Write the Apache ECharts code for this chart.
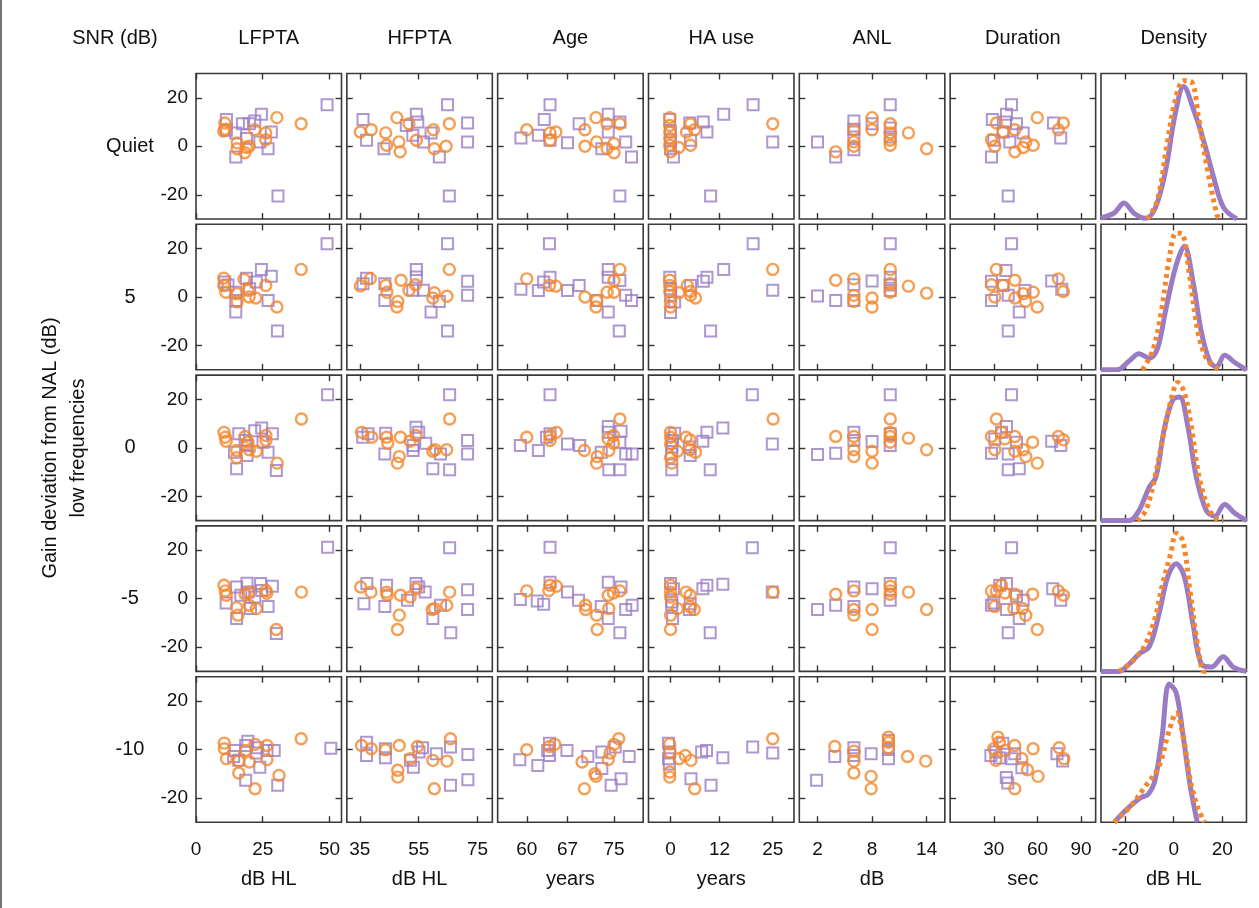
<!DOCTYPE html>
<html><head><meta charset="utf-8">
<script src="https://cdn.jsdelivr.net/npm/echarts@6/dist/echarts.min.js"></script>
<style>html,body{margin:0;padding:0;background:#fff}#c{width:1259px;height:908px}</style>
</head><body><div id="c"></div>
<script>
// ---------- DATA ----------
const rowNames = ['Quiet', '5', '0', '-5', '-10'];
const colNames = ['LFPTA', 'HFPTA', 'Age', 'HA use', 'ANL', 'Duration', 'Density'];
const colUnits = ['dB HL', 'dB HL', 'years', 'years', 'dB', 'sec', 'dB HL'];
const xTickValues = [[0,25,50],[35,55,75],[60,67,75],[0,12,25],[2,8,14],[30,60,90],[-20,0,20]];
const xMin = [0, 30.6, 55, -5.4, 0, 0, -30];
const xMax = [54.5, 80, 80, 30.2, 16, 100, 30];
const yTickValues = [-20, 0, 20];

// Each row array: [LFPTA, HFPTA, Age, HA use, ANL, Duration] lists of [x, gain deviation]
const purpleQuiet = [
 [[11.4,11],[11.4,6.6],[14.9,5.5],[14.9,-4.4],[17.4,9.3],[20,9.3],[22,10.4],[24.5,13.2],[28.2,5.9],[27,-1],[23.9,1.8],[18.9,3.2],[30.7,-20.5],[49.1,17.1]],
 [[36.1,11],[37.3,2.5],[43.2,-1],[54.2,13.2],[54.7,10],[53,4.5],[56.6,1.8],[59.2,5.5],[62,-4.4],[64.8,17.1],[71.6,9.6],[71.6,1.8],[65.4,-20.5],[50.8,8.6]],
 [[59,3.4],[62,4.5],[63,11],[64,17.1],[64,2.5],[67,1.4],[69,9.3],[74,13.2],[74,5.9],[76,10],[72.9,-1],[77,1.8],[78,-4.4],[76,-20.5]],
 [[-0.2,11],[0,5.9],[0,2.5],[0.7,-4.4],[4.7,9.6],[8,10],[8.9,5.9],[13,13.2],[20.2,17.1],[25,1.8],[9.8,-20.5],[4.9,2.5],[0,-1]],
 [[2,1.8],[4,-4.4],[6,10.4],[6,3.8],[6,-1.4],[8,9.3],[10,17.1],[10,3.8],[10,7.5],[6,7]],
 [[29,11],[38.7,13.2],[42.2,17.1],[28.4,-4.4],[30,2.5],[36.4,5.9],[45.6,9.3],[50.2,5.5],[41,1.8],[71,9.6],[76,3.4],[39.9,-20.5],[38,10]]
];
const orangeQuiet = [
 [[10.8,9.6],[10.4,6.3],[11,7],[15.4,1.4],[15.4,-1],[18.3,-2.7],[19.9,0],[18.9,-0.5],[22,6.8],[26.1,5.5],[26.1,2.7],[30.3,11.8],[39.4,9.3]],
 [[35.2,5.9],[38.9,6.8],[43.8,5.5],[44.1,0.4],[47.6,11.8],[48.3,1.8],[48.7,-2.3],[51.7,9.3],[54.2,2.5],[60,6.8],[60.3,-1],[64.3,0],[65.4,9.3]],
 [[60,6.8],[64,5.5],[65,5.9],[64,2.5],[70,6.8],[70,0],[71.9,11.8],[72,1.8],[73.8,9.3],[73.8,-1],[75,1.1],[75,-2.7],[76,9.3]],
 [[-0.2,11.8],[-0.2,8.6],[-0.2,5.9],[-0.2,3.2],[-0.2,0.4],[0,-2.3],[2,-0.5],[3.9,5.9],[4.9,9.3],[5.9,6.8],[4.9,0.4],[25,9.3]],
 [[4,-2.3],[6,6.8],[6,1.8],[6,0],[8,11.8],[8,6.8],[10,9.3],[10,5.5],[10,2.5],[10,0.4],[12,5.5],[14,-1]],
 [[31.8,9.6],[28.4,2.7],[30.7,0],[36.4,5.9],[44.5,6.8],[44.5,-2.3],[50.2,-0.5],[52,1.8],[57.1,0.4],[59.9,11.8],[74.4,6.8],[77.8,9.6]]
];
const purpleSNR5 = [
 [[10.8,6.2],[14.9,2],[14.9,-6.2],[14.9,-1.4],[18.9,7.8],[22.6,6.2],[24.5,11.4],[28.2,8.6],[27,-1.4],[20.1,3.4],[30.5,-14],[49.1,22],[12,5]],
 [[36.1,5.5],[37.3,7.8],[43.5,5.5],[43.5,-1.4],[54.2,11.4],[54.2,8.3],[53,2.8],[56.6,2.8],[59.2,-6.2],[62,-1.8],[64.8,22],[71.6,6.5],[71.6,0.7],[64.8,-14]],
 [[59,3.2],[62,2.7],[62.9,6.2],[63.9,22],[64,8.2],[67,2.7],[69,4.8],[74,11.4],[74,8.2],[76,6.8],[74,-6.2],[77,0.7],[78,-1.4],[75.9,-14],[72,-1.4]],
 [[-0.2,8.2],[0,3.4],[0,0.7],[0,-6.4],[1,-2],[4.9,4.8],[8,6.5],[8.9,8.2],[13,11.4],[20.2,22],[25,2.8],[9.8,-14]],
 [[2,0.4],[4,-1.4],[6,5.1],[6,-1.4],[8,6.6],[10,22],[10,8.2],[10,2.7],[10,5]],
 [[28.4,6.5],[28.4,-1.4],[38.3,11],[42.2,22],[36.4,4.8],[39.9,0.7],[51.4,2.7],[47.5,-6.2],[39.9,-14],[69.8,6.6],[76.7,3.2]]
];
const orangeSNR5 = [
 [[10.4,7.8],[10.4,4.8],[11.2,2],[15.4,1.4],[15.4,-2],[18,7.3],[19.5,2.8],[19.9,0],[22.4,-0.4],[26.1,4.8],[30.3,-4.1],[39.4,11.4]],
 [[35.2,4.6],[38.6,7.6],[43.8,4.8],[44.2,2],[47.9,-1.8],[47.6,-4.1],[49,6.9],[51.7,2.8],[53.9,5.1],[60.3,1.8],[59.8,-0.4],[64.6,0.3],[65.4,11.4]],
 [[60,7.5],[63.9,4.8],[65,4.5],[70,0],[72,-1.4],[71.9,-4.1],[73.8,2],[75,2],[75,6.8],[76,11.4]],
 [[-0.2,6.9],[-0.2,4.8],[-0.2,2.3],[0,-2],[0,-4.1],[2,1.8],[4.1,4.8],[4.9,2.3],[4.9,0.7],[6.1,-0.4],[25,11.4]],
 [[4,6.9],[6,7.5],[6,0.7],[6,-1.8],[8,-0.4],[8,-4.1],[10,11.4],[10,5.5],[10,2],[12,4.5],[14,1.6]],
 [[31.8,11.4],[28.4,5.1],[30.7,0],[36.4,4.8],[44.5,6.9],[44.5,-0.4],[50.2,1.4],[51.8,-1.8],[57.1,2],[59.9,-4.1],[74.4,7.5],[77.8,2.3]]
];
const purpleSNR0 = [
 [[16,5.8],[15.2,-8.6],[19.1,-3.2],[18.4,3],[22,7.1],[24.6,8.2],[25.1,2.3],[27,-1.8],[30.1,-9.3],[28.6,5.8],[14.4,-1.8],[49.3,21.9],[19.1,1]],
 [[36,4.4],[37.8,5.8],[43.8,6],[43.5,-2.5],[53.1,1],[53.1,-1.1],[54.1,8.5],[55,6.4],[57.4,1.9],[62.4,-2.5],[59.8,-8.6],[65.5,21.9],[65.5,-9],[71.6,3],[71.6,-2.5]],
 [[58.9,1],[62,-1.1],[63.4,4.4],[64,21.9],[64,5.8],[67,1.6],[69.1,1],[72.8,-1.8],[74,8.8],[74,6.4],[74.1,-9],[76.2,6.8],[76,2.3],[76,-9],[77,-2.5],[78.1,-2.5]],
 [[1,6],[0.5,3],[0.3,0.3],[0.3,-2.5],[0.3,-9],[4.6,0.3],[4.8,-3.2],[7.9,2.7],[8.9,6.4],[12.8,8.2],[20,21.9],[9.7,-9],[24.9,1.6]],
 [[2,-2.7],[4,-2.2],[6,6.4],[6,3],[8,2.6],[10,21.9],[10,1],[10,5.8]],
 [[28.4,-2.2],[30.7,3.7],[38.7,8.8],[42.2,21.9],[35.3,6.4],[39.9,-2.5],[45.6,2.3],[39.9,-9],[47.5,-8.6],[69.8,2.7],[76,1]]
];
const orangeSNR0 = [
 [[10.5,6.4],[11,4.4],[11.3,2.7],[15.2,-1.1],[15.2,-4.1],[18.4,4.7],[19.5,2.3],[20,-0.8],[22.6,-1.4],[26.2,5.1],[26.2,3],[30.4,-6.3],[39.5,11.9]],
 [[35.6,6.4],[39.1,4.4],[44.1,4.4],[44.5,1.9],[48.4,-3.6],[47.8,-6.3],[48.8,4.4],[52.1,2.7],[54.1,5.1],[59.8,-1.4],[60.6,-0.8],[64.5,-0.8],[65.5,11.9]],
 [[60,4.4],[64,5.1],[64,3],[65.1,6.4],[69.9,-1.1],[72.1,-3.6],[72,-6.3],[74.1,-1.1],[74,3.7],[74.9,5.1],[74.9,1.9],[76,11.9]],
 [[0,6.4],[0,4.4],[0,1.6],[0,-4.1],[0.3,-6.3],[1.7,-1.4],[3.8,4.4],[4.8,3.3],[4.8,-0.8],[6.1,-1.8],[25.1,11.9]],
 [[4,4.7],[6,4.7],[6,-0.8],[6,-3.6],[8,-1.4],[8,-6.3],[10,11.9],[10,6.4],[10,4.7],[10,2.3],[12,4],[14,-0.8]],
 [[31.8,11.9],[28.4,4.7],[30.7,-0.8],[35.3,6.4],[37.6,3.7],[44.5,4.7],[44.5,-1.4],[50.2,-0.8],[52,-3.6],[56.7,2.3],[59.9,-6.3],[74.4,4.7],[77.8,3.3]]
];
const purpleSNRm5 = [
 [[15.2,4.8],[11.3,-1.8],[15.2,-8.2],[19.1,6.4],[19.5,2.7],[20.4,-4.1],[24.2,6.2],[24.6,3.4],[22,0.7],[27,-3.2],[28.6,5.1],[30.1,-14.4],[49.3,21.2],[16.8,1.4]],
 [[37.4,6.2],[36.4,-2.1],[43.5,-3.2],[44.1,5.5],[54.1,6.2],[55,4.8],[57.2,2.7],[51.2,-0.7],[59.8,-8.2],[62.4,-2.7],[65.5,21],[65.9,-14.1],[71.6,3.7],[71.6,-4.5]],
 [[58.9,-0.4],[61.8,-1],[62.9,-2.3],[64,6.8],[64,21.2],[67,2.7],[68.9,-0.7],[72.8,-3.2],[74,6.8],[74,-8.2],[76.2,4.8],[76,-14.1],[77,-4.5],[78.1,-2.7]],
 [[0,6.2],[0.7,4.1],[0.3,-1.4],[0.3,-2.7],[0.5,-8.2],[4.6,-4.5],[4.8,-2.1],[7.9,4.1],[8.9,5.5],[12.8,5.9],[20,21],[9.7,-14.1],[24.9,2.7]],
 [[2,-4.5],[4,-2.7],[6,4.8],[6,-3.2],[8,4.1],[10,21],[10,6.2],[10,-0.7]],
 [[28.4,-2.7],[30,-1.8],[34.1,5.5],[38.7,6.2],[42.2,21],[38.7,-4.5],[45.6,1],[50.2,-0.7],[47.5,-8.2],[39.9,-14.1],[70.5,4.1],[76,-0.7]]
];
const orangeSNRm5 = [
 [[10.5,5.5],[11,3.2],[11.3,1.4],[15.2,-3.7],[15.7,-6.8],[18.4,1.8],[19.9,2.7],[19.9,-2.7],[22.6,-4.1],[26.2,3.4],[30.1,-12.7],[39.5,2.7],[26.5,2.2]],
 [[35.3,4.8],[38.8,2.7],[44.1,2.7],[44.3,1.5],[48.4,-6.8],[47.8,-12.7],[48.8,1.4],[52.1,0.7],[54.1,4.1],[59.6,-4.5],[60.4,-4.1],[64.5,-2.7],[65.5,2.7]],
 [[60,3.2],[63.8,3.4],[64,5.5],[65.1,5.1],[70.1,-2.7],[70.1,-4.5],[72,-6.8],[72.1,-12.7],[74.1,-4.1],[74,1.4],[74.9,2.3],[76,3.2]],
 [[0,5.5],[0,2.7],[0,0.7],[0,-6.8],[0,-12.7],[1.7,-4.1],[3.8,2.7],[4.8,1.4],[4.8,-3.4],[5.8,-4.5],[25.1,2.7]],
 [[4,1.8],[6,3.2],[6,-4.5],[6,-6.8],[8,-4.5],[8,-12.7],[10,5.1],[10,3.2],[10,1.8],[12,2.7],[14,-4.5]],
 [[28.4,3.2],[30.7,-3.2],[31.8,3.2],[35.3,5.5],[37.6,2.3],[44.5,1.8],[43.8,-4.1],[49.8,-4.1],[52,-6.8],[56.7,1.8],[59.9,-12.7],[74.4,3.2],[77.8,1.4]]
];
const purpleSNRm10 = [
 [[14.6,-0.4],[14.1,-2.9],[16,-4.5],[18.6,1.6],[19.4,3.4],[22.6,-1.5],[23.1,0.7],[23.9,-7.3],[18.6,-12.7],[26.6,-0.4],[29.3,-0.4],[30.6,-14.8],[50.5,0.5]],
 [[37.3,3],[37.3,-2.5],[43.7,0.3],[43.7,-3.4],[52.2,-4.5],[53.2,-7.3],[55.1,-1.1],[56.3,0.7],[61,-1.8],[65.8,1],[65.8,-14.8],[71.7,-2.1],[71.7,-12.5]],
 [[58.8,-4.2],[61.9,-6.6],[63.6,-0.4],[63.9,2.6],[63.9,-2.5],[66.9,-0.4],[70.5,-2.9],[72.9,-1.1],[72.9,-7.9],[74.5,-14.8],[76.2,-12.1],[77.6,-2.9],[75.2,1]],
 [[-0.5,2.6],[-0.2,-1.1],[-0.5,-3.8],[-0.3,-6],[5,-12.1],[7.6,-1.1],[8.8,-0.4],[9.9,-14.8],[12.8,-3.4],[20.1,1],[25,-1.5]],
 [[1.9,-12.7],[3.9,-2.9],[6,0.7],[6,-2.5],[7.9,-1.8],[9.8,3.7],[9.8,-3.8],[9.8,0]],
 [[28,-2.5],[31.4,-1.1],[36.2,2.6],[38.6,-11.6],[39.6,-13.8],[42.5,-3.8],[44.4,-1.8],[49.3,-7.5],[73.4,-1.8],[77.3,-4.8],[34,-3.5]]
];
const orangeSNRm10 = [
 [[10.6,2.6],[10.6,0.3],[11.4,-3.8],[16,-4.8],[16,-9.7],[18.6,-0.4],[20,-5.2],[22.1,2.1],[22.1,-16.2],[26.6,1.6],[26.6,-4.2],[31.1,-10.7],[39.4,4.4]],
 [[35.6,1.6],[38.9,0.3],[43.7,-0.1],[48.4,1.6],[47.9,-8.6],[47.9,-11.4],[52.2,-3.8],[54.6,1.2],[59.8,-4.5],[60.3,-16.2],[64.6,-4.8],[65.8,4.4]],
 [[60,-0.1],[63.9,1.2],[64.8,2.1],[69.5,-5.2],[69.9,-16.2],[71.7,-10],[71.9,-11.1],[74,-4.2],[74.3,-1.5],[75,2.1],[75.8,4.4]],
 [[-0.2,2.3],[-0.2,-1.1],[-0.2,-9.3],[-0.2,-11.4],[2.1,-3.8],[3.6,-2.5],[5,-4.5],[5.9,-16.2],[25,4.4]],
 [[3.9,1.2],[6,-0.7],[6,-4.8],[6,-9.7],[7.9,-11.1],[7.9,-16.2],[9.8,5.1],[9.8,3],[9.8,0.7],[11.9,-2.9],[13.9,-4.8]],
 [[29.9,0.3],[31.4,-4.5],[32.8,5.1],[33.8,3],[37.7,-0.4],[44.4,1.6],[44.4,-16.2],[49.3,-3.8],[53.1,-8.4],[57,0.3],[60.4,-11.1],[74.9,0.7],[78.2,-3.8]]
];

// Density curves: [gain deviation (dB), relative density]
const densPurpleQuiet = [[-30,0.005],[-29.4,0.01],[-24.6,0.04],[-20.5,0.11],[-16.4,0.04],[-11.6,0.005],[-7.5,0.08],[-3.4,0.33],[0.7,0.73],[4.1,0.91],[8.2,0.75],[12.3,0.54],[16.4,0.29],[20.5,0.08],[26,0]];
const densOrangeQuiet = [[-10.9,0],[-6.8,0.125],[-2.7,0.52],[0.7,0.82],[4.1,0.95],[7.5,0.94],[10.2,0.70],[13.7,0.36],[17.8,0.03],[19,0]];
const densPurpleSNR5 = [[-30,0],[-23.3,0],[-18.4,0.06],[-14.3,0.11],[-10.1,0.08],[-6.6,0.15],[-3.2,0.42],[1,0.72],[4.4,0.85],[7.9,0.61],[11.4,0.26],[14.8,0.06],[17.6,0.02],[21,0.10],[25.2,0.05],[30,0]];
const densOrangeSNR5 = [[-12.9,0],[-8.7,0.13],[-5.3,0.38],[-1.8,0.77],[1,0.94],[3.7,0.93],[6.5,0.65],[10,0.26],[13.4,0.08],[16.9,0.02],[19.7,0]];
const densPurpleSNR0 = [[-30,0],[-18.4,0],[-14.3,0.07],[-10.1,0.23],[-7.3,0.30],[-3.9,0.63],[-0.4,0.83],[2.4,0.85],[5.8,0.65],[9.3,0.30],[13.4,0.07],[16.9,0.03],[21,0.11],[25.2,0.05],[30,0]];
const densOrangeSNR0 = [[-15,0],[-11.5,0.07],[-8,0.28],[-4.6,0.56],[-1.1,0.83],[1.7,0.95],[4.4,0.88],[7.2,0.65],[10.7,0.28],[14.8,0.07],[18.3,0.005],[20.4,0]];
const densPurpleSNRm5 = [[-30,0],[-22.6,0],[-18.4,0.05],[-14.3,0.12],[-10.1,0.17],[-6,0.40],[-2.5,0.65],[1,0.74],[4.4,0.65],[7.9,0.33],[11.4,0.05],[15.5,0.03],[20.4,0.10],[24.5,0.03],[30,0]];
const densOrangeSNRm5 = [[-22.6,0],[-17,0.07],[-12.2,0.17],[-8,0.35],[-4.6,0.60],[-1.1,0.82],[1,0.95],[3.7,0.90],[6.5,0.58],[9.3,0.24],[12,0.005],[13.4,0]];
const densPurpleSNRm10 = [[-24.5,0],[-19.3,0.09],[-13.5,0.17],[-10.6,0.19],[-7.7,0.29],[-4.8,0.59],[-1.9,0.95],[1,0.89],[3.9,0.59],[6.8,0.25],[9.7,0]];
const densOrangeSNRm10 = [[-24.5,0],[-17.8,0.11],[-12,0.24],[-6.2,0.38],[-1.9,0.63],[1,0.75],[3.9,0.59],[6.8,0.29],[9.7,0.11],[12.6,0]];

const purpleRows = [purpleQuiet, purpleSNR5, purpleSNR0, purpleSNRm5, purpleSNRm10];
const orangeRows = [orangeQuiet, orangeSNR5, orangeSNR0, orangeSNRm5, orangeSNRm10];
const densPurpleRows = [densPurpleQuiet, densPurpleSNR5, densPurpleSNR0, densPurpleSNRm5, densPurpleSNRm10];
const densOrangeRows = [densOrangeQuiet, densOrangeSNR5, densOrangeSNR0, densOrangeSNRm5, densOrangeSNRm10];

// ---------- STYLE / LAYOUT ----------
const PURPLE = '#9a7cc5', ORANGE = '#f5862a';
const FONT = '"Liberation Sans", Arial, Helvetica, sans-serif';
const P_LEFT = 196, P_TOP = 73.5, P_W = 145.5, P_H = 145.5, STEP_X = 150.83, STEP_Y = 150.8;

const grids = [], xAxes = [], yAxes = [], series = [];
const tickStyle = { show: true, inside: true, length: 6, lineStyle: { color: '#333', width: 1.4 } };
const noLine = { show: false, onZero: false };

for (let r = 0; r < 5; r++) {
  for (let c = 0; c < 7; c++) {
    const g = r * 7 + c;
    grids.push({ left: P_LEFT + c * STEP_X, top: P_TOP + r * STEP_Y, width: P_W, height: P_H,
      show: true, borderColor: '#3a3a3a', borderWidth: 1.6, backgroundColor: '#fff' });
    const xBase = { gridIndex: g, type: 'value', min: xMin[c], max: xMax[c],
      axisLine: noLine, splitLine: { show: false },
      axisTick: Object.assign({}, tickStyle, { customValues: xTickValues[c] }) };
    xAxes.push(Object.assign({}, xBase, { position: 'bottom',
      axisLabel: { show: r === 4, customValues: xTickValues[c], margin: 18, fontSize: 19, color: '#111', fontFamily: FONT } }));
    xAxes.push(Object.assign({}, xBase, { position: 'top', axisLabel: { show: false } }));
    if (c < 6) {
      const yBase = { gridIndex: g, type: 'value', min: -30, max: 30,
        axisLine: noLine, splitLine: { show: false },
        axisTick: Object.assign({}, tickStyle, { customValues: yTickValues }) };
      yAxes.push(Object.assign({}, yBase, { position: 'left',
        axisLabel: { show: c === 0, customValues: yTickValues, margin: 8, fontSize: 19, color: '#111', fontFamily: FONT } }));
      yAxes.push(Object.assign({}, yBase, { position: 'right', axisLabel: { show: false } }));
      series.push({ type: 'scatter', xAxisIndex: 2 * g, yAxisIndex: 2 * g, data: purpleRows[r][c],
        symbol: 'rect', symbolSize: 11, silent: true, z: 2,
        itemStyle: { color: 'rgba(255,255,255,0)', borderColor: PURPLE, borderWidth: 2 } });
      series.push({ type: 'scatter', xAxisIndex: 2 * g, yAxisIndex: 2 * g, data: orangeRows[r][c],
        symbol: 'circle', symbolSize: 11, silent: true, z: 3,
        itemStyle: { color: 'rgba(255,255,255,0)', borderColor: ORANGE, borderWidth: 2.4 } });
    } else {
      const yBase = { gridIndex: g, type: 'value', min: 0, max: 1,
        axisLine: noLine, splitLine: { show: false }, axisTick: { show: false }, axisLabel: { show: false } };
      yAxes.push(Object.assign({}, yBase, { position: 'left' }));
      yAxes.push(Object.assign({}, yBase, { position: 'right' }));
      series.push({ type: 'line', xAxisIndex: 2 * g, yAxisIndex: 2 * g, data: densPurpleRows[r],
        smooth: 0.35, showSymbol: false, silent: true, z: 2,
        lineStyle: { color: PURPLE, width: 5 } });
      series.push({ type: 'line', xAxisIndex: 2 * g, yAxisIndex: 2 * g, data: densOrangeRows[r],
        smooth: 0.35, showSymbol: false, silent: true, z: 3,
        lineStyle: { color: ORANGE, width: 5, type: [4, 4], cap: 'butt' } });
    }
  }
}

function txt(x, y, text, size, extra) {
  return Object.assign({ type: 'text', x: x, y: y, silent: true,
    style: { text: text, fill: '#111', font: size + 'px ' + FONT,
      textAlign: 'center', textVerticalAlign: 'middle', align: 'center', verticalAlign: 'middle' } }, extra || {});
}
const graphics = [];
graphics.push({ type: 'line', silent: true, shape: { x1: 1, y1: 0, x2: 1, y2: 908 },
  style: { stroke: '#444', lineWidth: 1.5 } });
graphics.push(txt(115, 38, 'SNR (dB)', 20));
for (let c = 0; c < 7; c++) {
  const cx = P_LEFT + c * STEP_X + P_W / 2;
  graphics.push(txt(cx, 38, colNames[c], 20));
  graphics.push(txt(cx, 879, colUnits[c], 20));
}
for (let r = 0; r < 5; r++) {
  graphics.push(txt(130, P_TOP + r * STEP_Y + P_H / 2, rowNames[r], 20));
}
graphics.push(txt(50, 448, 'Gain deviation from NAL (dB)', 20, { rotation: Math.PI / 2 }));
graphics.push(txt(78, 448, 'low frequencies', 20, { rotation: Math.PI / 2 }));

const chart = echarts.init(document.getElementById('c'), null, { renderer: 'canvas' });
chart.setOption({
  animation: false,
  backgroundColor: '#fff',
  grid: grids, xAxis: xAxes, yAxis: yAxes, series: series, graphic: graphics
});
</script></body></html>
